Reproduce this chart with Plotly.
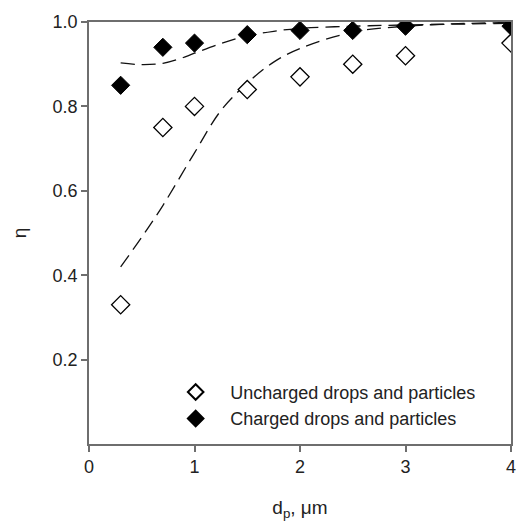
import plotly.graph_objects as go

# measured points
dp = [0.3, 0.7, 1.0, 1.5, 2.0, 2.5, 3.0, 4.0]
eta_uncharged = [0.33, 0.75, 0.80, 0.84, 0.87, 0.90, 0.92, 0.95]
eta_charged = [0.85, 0.94, 0.95, 0.97, 0.98, 0.98, 0.99, 0.99]

# model curves (dashed)
dp_fit_u = [0.3, 0.5, 0.7, 1.0, 1.25, 1.5, 1.75, 2.0, 2.5, 3.0, 3.5, 4.0]
eta_fit_u = [0.42, 0.49, 0.565, 0.69, 0.79, 0.855, 0.905, 0.937, 0.976, 0.99, 0.996, 0.999]
dp_fit_c = [0.3, 0.5, 0.7, 0.85, 1.0, 1.25, 1.5, 1.75, 2.0, 2.5, 3.0, 3.5, 4.0]
eta_fit_c = [0.903, 0.899, 0.902, 0.912, 0.926, 0.949, 0.967, 0.978, 0.985, 0.99, 0.993, 0.995, 0.997]

txt = '#222222'
ax = '#6e6e6e'

fig = go.Figure()
fig.add_trace(go.Scatter(x=dp_fit_u, y=eta_fit_u, mode='lines', line_shape='spline',
                         line=dict(color='#111111', width=1.3, dash='14px,7px'),
                         showlegend=False, hoverinfo='skip'))
fig.add_trace(go.Scatter(x=dp_fit_c, y=eta_fit_c, mode='lines', line_shape='spline',
                         line=dict(color='#111111', width=1.3, dash='14px,7px'),
                         showlegend=False, hoverinfo='skip'))
fig.add_trace(go.Scatter(x=dp, y=eta_uncharged, mode='markers',
                         name='Uncharged drops and particles',
                         marker=dict(symbol='diamond', size=14, color='white',
                                     line=dict(color='black', width=1.3))))
fig.add_trace(go.Scatter(x=dp, y=eta_charged, mode='markers',
                         name='Charged drops and particles',
                         marker=dict(symbol='diamond', size=14, color='black',
                                     line=dict(color='black', width=1))))

fig.update_layout(
    width=518, height=521,
    margin=dict(l=89, r=7, t=22, b=77),
    paper_bgcolor='white', plot_bgcolor='white',
    font=dict(family='Liberation Sans, Arial, sans-serif', size=18, color=txt),
    legend=dict(x=0.171, y=0.017, xanchor='left', yanchor='bottom',
                bgcolor='rgba(0,0,0,0)', font=dict(size=18, color=txt),
                tracegroupgap=0, itemsizing='constant', itemwidth=59),
    xaxis=dict(range=[0, 4], tickvals=[0, 1, 2, 3, 4], showgrid=False, zeroline=False,
               showline=True, linecolor=ax, linewidth=1.5, mirror=True,
               ticks='outside', ticklen=6, tickcolor=ax, tickwidth=1.5,
               ticklabeloverflow='allow', automargin=False,
               title=dict(text='d<sub>p</sub>, μm', standoff=25, font=dict(size=19))),
    yaxis=dict(range=[0, 1.0], tickvals=[0.2, 0.4, 0.6, 0.8, 1.0], ticktext=['0.2', '0.4', '0.6', '0.8', '1.0'],
               showgrid=False, zeroline=False, automargin=False,
               showline=True, linecolor=ax, linewidth=1.5, mirror=True,
               ticks='outside', ticklen=6, tickcolor=ax, tickwidth=1.5,
               title=dict(text='η', standoff=21, font=dict(size=19))),
)

# drop the page's default body margin so the figure fills the window
fig.write_html("out.html", config={'displayModeBar': False},
               post_script="document.body.style.margin='0';")
